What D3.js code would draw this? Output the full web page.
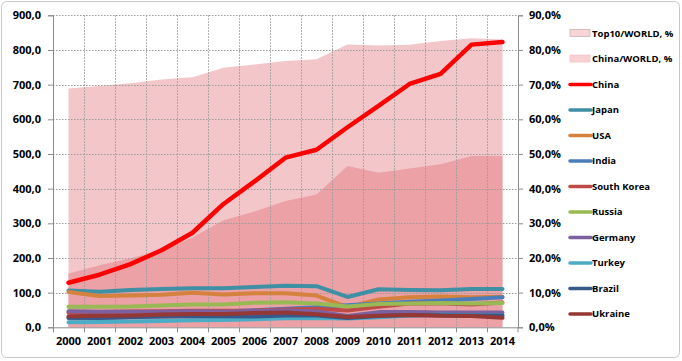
<!DOCTYPE html>
<html>
<head>
<meta charset="utf-8">
<script src="https://cdn.jsdelivr.net/npm/d3@7"></script>
<style>
  body { margin: 0; background: #fff; }
  svg text { font-family: "Open Sans", "Noto Sans", sans-serif; font-weight: bold; fill: #000; }
</style>
</head>
<body>
<svg id="chart" width="682" height="361"></svg>
<script>
// years on the category axis
const years = [2000, 2001, 2002, 2003, 2004, 2005, 2006, 2007, 2008, 2009, 2010, 2011, 2012, 2013, 2014];

// shares of world output, %
const top10World = [68.9, 69.6, 70.4, 71.5, 72.1, 74.9, 75.8, 76.8, 77.3, 81.6, 81.3, 81.5, 82.6, 83.4, 83.0];
const chinaWorld = [15.5, 17.9, 19.9, 22.2, 25.9, 30.9, 33.4, 36.4, 38.3, 46.5, 44.6, 45.8, 47.0, 49.4, 49.4];

// production per country, left axis
const china = [128.5, 151.6, 182.2, 222.3, 272.8, 355.8, 421.0, 489.3, 512.3, 577.1, 638.7, 701.9, 731.0, 815.4, 822.7];
const japan = [106.4, 102.9, 107.7, 110.5, 112.7, 112.5, 116.2, 120.2, 118.7, 87.5, 109.6, 107.6, 107.2, 110.6, 110.7];
const usa = [101.8, 90.1, 91.6, 93.7, 99.7, 94.9, 98.2, 98.1, 91.4, 58.2, 80.5, 86.4, 88.7, 86.9, 88.2];
const india = [26.9, 27.3, 28.8, 31.8, 32.6, 45.8, 49.5, 53.5, 57.8, 63.5, 68.9, 73.5, 77.3, 81.3, 86.5];
const southKorea = [43.1, 43.9, 45.4, 46.3, 47.5, 47.8, 48.5, 51.5, 53.6, 48.6, 58.9, 68.5, 69.1, 66.1, 71.5];
const russia = [59.1, 59.0, 59.8, 62.7, 65.6, 66.1, 70.8, 72.4, 68.5, 60.0, 66.9, 68.9, 70.4, 69.0, 70.0];
const germany = [46.4, 44.8, 45.0, 44.8, 46.4, 44.5, 47.2, 48.6, 45.8, 32.7, 43.8, 44.3, 42.7, 42.6, 42.9];
const turkey = [14.3, 15.0, 16.5, 18.3, 20.5, 21.0, 23.3, 25.8, 26.8, 25.3, 29.1, 34.1, 35.9, 34.7, 34.0];
const brazil = [27.9, 26.7, 29.6, 31.1, 32.9, 31.6, 30.9, 33.8, 33.7, 26.5, 32.9, 35.2, 34.5, 34.2, 33.9];
const ukraine = [31.8, 33.1, 34.1, 36.9, 38.7, 38.6, 40.9, 42.8, 37.3, 29.9, 33.4, 35.3, 33.0, 32.8, 27.2];

const leftTicks = [0, 100, 200, 300, 400, 500, 600, 700, 800, 900];
const rightTicks = [0, 0.1, 0.2, 0.3, 0.4, 0.5, 0.6, 0.7, 0.8, 0.9];

const lineSeries = [
  { name: 'China', values: china, color: '#ff0000', width: 4.5 },
  { name: 'Japan', values: japan, color: '#3f8fa5', width: 4 },
  { name: 'USA', values: usa, color: '#d4823e', width: 4 },
  { name: 'India', values: india, color: '#4a7ebb', width: 4 },
  { name: 'South Korea', values: southKorea, color: '#be4b48', width: 4 },
  { name: 'Russia', values: russia, color: '#98b954', width: 4 },
  { name: 'Germany', values: germany, color: '#7d60a0', width: 4 },
  { name: 'Turkey', values: turkey, color: '#4bacc6', width: 4 },
  { name: 'Brazil', values: brazil, color: '#36598a', width: 4 },
  { name: 'Ukraine', values: ukraine, color: '#953735', width: 4 }
];

const svg = d3.select('#chart');

// outer frame
svg.append('rect')
  .attr('x', 1.5).attr('y', 1.5)
  .attr('width', 678).attr('height', 356)
  .attr('rx', 5)
  .attr('fill', '#fff')
  .attr('stroke', '#c8c8c8');

const plot = { left: 53, right: 518, top: 15.3, bottom: 327.3 };

const x = d3.scaleBand().domain(years).range([plot.left, plot.right]).padding(0);
const cx = yr => x(yr) + x.bandwidth() / 2;
const y = d3.scaleLinear().domain([0, 900]).range([plot.bottom, plot.top]);
const y2 = d3.scaleLinear().domain([0, 0.9]).range([plot.bottom, plot.top]);

// share areas
const area = d3.area()
  .x((d, i) => cx(years[i]))
  .y0(y2(0))
  .y1(d => y2(d / 100));

svg.append('path').datum(top10World)
  .attr('d', area)
  .attr('fill', '#f3c7ca');

svg.append('path').datum(chinaWorld)
  .attr('d', area)
  .attr('fill', '#eba1a6');

// gridlines
const grid = svg.append('g').attr('stroke', '#9a9a9a').attr('stroke-dasharray', '1.5,1.5').attr('stroke-width', 1);
grid.selectAll('line.h').data(leftTicks.slice(1)).enter().append('line')
  .attr('x1', plot.left).attr('x2', plot.right)
  .attr('y1', d => Math.round(y(d)) + 0.5).attr('y2', d => Math.round(y(d)) + 0.5);
grid.selectAll('line.v').data(years.slice(1)).enter().append('line')
  .attr('x1', d => Math.round(x(d)) + 0.5).attr('x2', d => Math.round(x(d)) + 0.5)
  .attr('y1', plot.top).attr('y2', plot.bottom);

// country lines
const line = d3.line().x((d, i) => cx(years[i])).y(d => y(d));
svg.append('g').selectAll('path').data(lineSeries).enter().append('path')
  .attr('d', d => line(d.values))
  .attr('fill', 'none')
  .attr('stroke', d => d.color)
  .attr('stroke-width', d => d.width)
  .attr('stroke-linejoin', 'round')
  .attr('stroke-linecap', 'round');

// axes
const leftAxis = d3.axisLeft(y).tickValues(leftTicks).tickSize(5).tickPadding(7)
  .tickFormat(d => d3.format('.1f')(d).replace('.', ','));
const gl = svg.append('g').attr('transform', `translate(${plot.left},0)`).call(leftAxis);

const rightAxis = d3.axisRight(y2).tickValues(rightTicks).tickSize(5).tickPadding(6)
  .tickFormat(d => d3.format('.1f')(d * 100).replace('.', ',') + '%');
const gr = svg.append('g').attr('transform', `translate(${plot.right},0)`).call(rightAxis);

const bottomAxis = d3.axisBottom(x).tickSize(0).tickPadding(10);
const gb = svg.append('g').attr('transform', `translate(0,${plot.bottom})`).call(bottomAxis);
gb.selectAll('.tick line').remove();
gb.append('g').selectAll('line').data(years.concat([null])).enter().append('line')
  .attr('x1', d => d === null ? plot.right : Math.round(x(d)) + 0.5)
  .attr('x2', d => d === null ? plot.right : Math.round(x(d)) + 0.5)
  .attr('y1', 0).attr('y2', 5)
  .attr('stroke', '#8c8c8c');

[gl, gr, gb].forEach(g => {
  g.select('.domain').attr('stroke', '#8c8c8c');
  g.selectAll('.tick line').attr('stroke', '#8c8c8c');
  g.selectAll('text').style('font-size', '11px').style('font-weight', 'bold')
    .style('font-family', '"Open Sans", "Noto Sans", sans-serif').attr('fill', '#000');
});

// legend
const legendItems = [
  { name: 'Top10/WORLD, %', type: 'area', color: '#f7d4d6', stroke: '#c9b2b4' },
  { name: 'China/WORLD, %', type: 'area', color: '#f9d0d4', stroke: '#f5c0c6' }
].concat(lineSeries.map(s => ({ name: s.name, type: 'line', color: s.color })));

const legend = svg.append('g');
const rows = legend.selectAll('g').data(legendItems).enter().append('g')
  .attr('transform', (d, i) => `translate(570,${33.5 + i * 25.5})`);

rows.filter(d => d.type === 'area').append('rect')
  .attr('x', 0).attr('y', -4).attr('width', 20).attr('height', 7)
  .attr('fill', d => d.color).attr('stroke', d => d.stroke).attr('stroke-width', 0.8);

rows.filter(d => d.type === 'line').append('line')
  .attr('x1', 0).attr('x2', 21).attr('y1', 0).attr('y2', 0)
  .attr('stroke', d => d.color).attr('stroke-width', 3.5).attr('stroke-linecap', 'round');

rows.append('text')
  .attr('x', 22).attr('y', 0).attr('dy', '0.35em')
  .style('font-size', '9.5px')
  .text(d => d.name);
</script>
</body>
</html>
